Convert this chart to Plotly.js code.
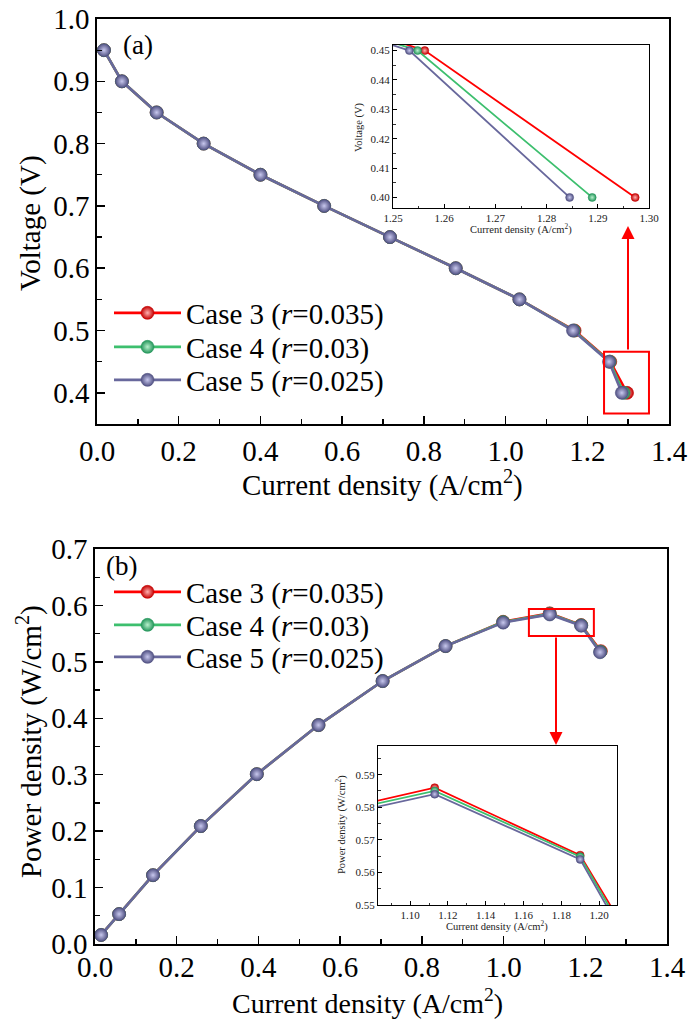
<!DOCTYPE html>
<html>
<head>
<meta charset="utf-8">
<script src="https://cdn.plot.ly/plotly-3.0.1.min.js"></script>
<style>
  html, body { margin: 0; padding: 0; background: #fff; }
  #chart { width: 689px; height: 1019px; }
</style>
</head>
<body>
<div id="chart"></div>
<script>
// ---- Polarization curves (panel a) ----
const voltage = [0.95, 0.90, 0.85, 0.80, 0.75, 0.70, 0.65, 0.60, 0.55, 0.50, 0.45, 0.40];
const currentCase3 = [0.017, 0.061, 0.146, 0.261, 0.400, 0.556, 0.717, 0.878, 1.034, 1.169, 1.2562, 1.2973];
const currentCase4 = [0.017, 0.061, 0.146, 0.261, 0.400, 0.556, 0.717, 0.878, 1.034, 1.167, 1.2548, 1.2889];
const currentCase5 = [0.017, 0.061, 0.146, 0.261, 0.400, 0.556, 0.717, 0.878, 1.034, 1.165, 1.2532, 1.2845];

// ---- Power density curves (panel b) ----
const pdCurrentCase3 = [0.015, 0.059, 0.142, 0.259, 0.396, 0.547, 0.704, 0.858, 0.999, 1.113, 1.190, 1.238];
const pdCurrentCase4 = [0.015, 0.059, 0.142, 0.259, 0.396, 0.547, 0.704, 0.858, 0.999, 1.113, 1.190, 1.237];
const pdCurrentCase5 = [0.015, 0.059, 0.142, 0.259, 0.396, 0.547, 0.704, 0.858, 0.999, 1.113, 1.190, 1.236];
const powerCase3 = [0.016, 0.053, 0.122, 0.209, 0.301, 0.388, 0.466, 0.528, 0.5710, 0.5860, 0.5653, 0.519];
const powerCase4 = [0.016, 0.053, 0.122, 0.209, 0.301, 0.388, 0.466, 0.528, 0.5705, 0.5850, 0.5648, 0.518];
const powerCase5 = [0.016, 0.053, 0.122, 0.209, 0.301, 0.388, 0.466, 0.528, 0.5695, 0.5840, 0.5640, 0.517];

const seriesNames = ['Case 3 (<i>r</i>=0.035)', 'Case 4 (<i>r</i>=0.03)', 'Case 5 (<i>r</i>=0.025)'];
const lineColors = ['#ff0000', '#3dbf6e', '#68689c'];
const edgeColors = ['#c40000', '#23955a', '#505082'];
const glowColors = ['#ffb0b0', '#b8f0cc', '#c8c8ee'];

const W = 689, H = 1019;
const px = x => x / W;
const py = y => 1 - y / H;

const FONT = 'Liberation Serif';
const MAIN_SIZE = 29;

function series(x, y, i, xa, ya, opts) {
  return Object.assign({
    type: 'scatter', mode: 'lines+markers',
    x: x, y: y, name: seriesNames[i],
    xaxis: xa, yaxis: ya,
    line: { color: lineColors[i], width: 2.6 },
    marker: {
      size: 13, symbol: 'circle', color: edgeColors[i],
      gradient: { type: 'radial', color: glowColors[i] },
      line: { color: edgeColors[i], width: 0.6 }
    },
    cliponaxis: false
  }, opts || {});
}

const curA = [currentCase3, currentCase4, currentCase5];
const curB = [pdCurrentCase3, pdCurrentCase4, pdCurrentCase5];
const powB = [powerCase3, powerCase4, powerCase5];

// one legend box per entry so each row can sit at its own height
const legendIdsA = ['legend', 'legend2', 'legend3'];
const legendIdsB = ['legend4', 'legend5', 'legend6'];

const insetStyle = i => ({
  showlegend: false, cliponaxis: true,
  line: { color: lineColors[i], width: 1.8 },
  marker: { size: 8, color: edgeColors[i], gradient: { type: 'radial', color: glowColors[i] },
            line: { color: edgeColors[i], width: 0.5 } }
});

const traces = [];
for (let i = 0; i < 3; i++) traces.push(series(curA[i], voltage, i, 'x', 'y', { legend: legendIdsA[i] }));
for (let i = 0; i < 3; i++) traces.push(series(curB[i], powB[i], i, 'x2', 'y2', { legend: legendIdsB[i] }));
for (let i = 0; i < 3; i++) traces.push(series(curA[i], voltage, i, 'x3', 'y3', insetStyle(i)));
for (let i = 0; i < 3; i++) traces.push(series(curB[i], powB[i], i, 'x4', 'y4', insetStyle(i)));

function mainAxis(domain, range, dtick, minorDtick, extra) {
  return Object.assign({
    domain: domain, range: range, dtick: dtick, tick0: 0,
    tickformat: '.1f',
    showgrid: false, zeroline: false,
    showline: true, linecolor: '#000', linewidth: 1.8, mirror: true,
    ticks: 'inside', ticklen: 8, tickwidth: 1.5, tickcolor: '#000',
    minor: { dtick: minorDtick, ticks: 'inside', ticklen: 5, tickwidth: 1.3, tickcolor: '#000', showgrid: false },
    tickfont: { family: FONT, size: MAIN_SIZE, color: '#000' },
    fixedrange: true
  }, extra || {});
}

function insetAxis(domain, range, dtick, minorDtick, extra) {
  return Object.assign({
    domain: domain, range: range, dtick: dtick, tick0: 0,
    tickformat: '.2f',
    showgrid: false, zeroline: false,
    showline: true, linecolor: '#000', linewidth: 1, mirror: true,
    ticks: 'inside', ticklen: 4, tickwidth: 1, tickcolor: '#000',
    minor: { dtick: minorDtick, ticks: 'inside', ticklen: 2.5, tickwidth: 0.8, tickcolor: '#000', showgrid: false },
    tickfont: { family: FONT, size: 11, color: '#222' },
    fixedrange: true
  }, extra || {});
}

function legendAt(rowY) {
  return {
    x: px(109), y: py(rowY), xanchor: 'left', yanchor: 'middle',
    font: { family: FONT, size: MAIN_SIZE, color: '#000' },
    bgcolor: 'rgba(0,0,0,0)', borderwidth: 0, itemwidth: 67
  };
}

const red = '#ff0000';

const layout = {
  width: W, height: H,
  margin: { l: 0, r: 0, t: 0, b: 0 },
  paper_bgcolor: '#fff', plot_bgcolor: 'rgba(0,0,0,0)',
  font: { family: FONT, color: '#000' },
  showlegend: true,
  legend: legendAt(313),
  legend2: legendAt(347),
  legend3: legendAt(380),
  legend4: legendAt(592),
  legend5: legendAt(625),
  legend6: legendAt(657),

  xaxis: mainAxis([px(97), px(669)], [0, 1.4], 0.2, 0.1, { anchor: 'y' }),
  yaxis: mainAxis([py(424), py(19)], [0.35, 1.0], 0.1, 0.05, { anchor: 'x' }),
  xaxis2: mainAxis([px(95), px(667)], [0, 1.4], 0.2, 0.1, { anchor: 'y2', ticklabelstandoff: -4 }),
  yaxis2: mainAxis([py(944), py(549)], [0, 0.7], 0.1, 0.05, { anchor: 'x2' }),

  xaxis3: insetAxis([px(393), px(649)], [1.25, 1.30], 0.01, 0.005, { anchor: 'y3' }),
  yaxis3: insetAxis([py(208), py(45)], [0.3964, 0.4519], 0.01, 0.005, { anchor: 'x3' }),
  xaxis4: insetAxis([px(378), px(617)], [1.083, 1.2095], 0.02, 0.01, { anchor: 'y4' }),
  yaxis4: insetAxis([py(905), py(746)], [0.55, 0.5988], 0.01, 0.005, { anchor: 'x4' }),

  shapes: [
    { type: 'rect', xref: 'x', yref: 'y', x0: 1.241, x1: 1.351, y0: 0.367, y1: 0.466,
      line: { color: red, width: 2 } },
    { type: 'rect', xref: 'x2', yref: 'y2', x0: 1.062, x1: 1.221, y0: 0.5458, y1: 0.5937,
      line: { color: red, width: 2 } }
  ],

  annotations: [
    // panel labels
    { text: '(a)', xref: 'paper', yref: 'paper', x: px(138), y: py(45), showarrow: false,
      font: { family: FONT, size: 27 }, xanchor: 'center', yanchor: 'middle' },
    { text: '(b)', xref: 'paper', yref: 'paper', x: px(121), y: py(566), showarrow: false,
      font: { family: FONT, size: 27 }, xanchor: 'center', yanchor: 'middle' },
    // main axis titles
    { text: 'Current density (A/cm<sup>2</sup>)', xref: 'paper', yref: 'paper', x: px(382), y: py(484),
      showarrow: false, font: { family: FONT, size: MAIN_SIZE }, xanchor: 'center', yanchor: 'middle' },
    { text: 'Voltage (V)', xref: 'paper', yref: 'paper', x: px(30), y: py(223), textangle: -90,
      showarrow: false, font: { family: FONT, size: MAIN_SIZE }, xanchor: 'center', yanchor: 'middle' },
    { text: 'Current density (A/cm<sup>2</sup>)', xref: 'paper', yref: 'paper', x: px(367), y: py(1001),
      showarrow: false, font: { family: FONT, size: 28 }, xanchor: 'center', yanchor: 'middle' },
    { text: 'Power density (W/cm<sup>2</sup>)', xref: 'paper', yref: 'paper', x: px(29), y: py(742), textangle: -90,
      showarrow: false, font: { family: FONT, size: MAIN_SIZE }, xanchor: 'center', yanchor: 'middle' },
    // zoomed view titles
    { text: 'Current density (A/cm<sup>2</sup>)', xref: 'paper', yref: 'paper', x: px(521), y: py(229),
      showarrow: false, font: { family: FONT, size: 10.5, color: '#222' }, xanchor: 'center', yanchor: 'middle' },
    { text: 'Voltage (V)', xref: 'paper', yref: 'paper', x: px(359), y: py(127), textangle: -90,
      showarrow: false, font: { family: FONT, size: 10.5, color: '#222' }, xanchor: 'center', yanchor: 'middle' },
    { text: 'Current density (A/cm<sup>2</sup>)', xref: 'paper', yref: 'paper', x: px(497), y: py(926),
      showarrow: false, font: { family: FONT, size: 10.5, color: '#222' }, xanchor: 'center', yanchor: 'middle' },
    { text: 'Power density (W/cm<sup>2</sup>)', xref: 'paper', yref: 'paper', x: px(341), y: py(825), textangle: -90,
      showarrow: false, font: { family: FONT, size: 10.5, color: '#222' }, xanchor: 'center', yanchor: 'middle' },
    // pointer arrows from the boxed regions to the zoomed views
    { text: '', xref: 'paper', yref: 'paper', x: px(628), y: py(226), ax: 0, ay: 125,
      axref: 'pixel', ayref: 'pixel', showarrow: true, arrowhead: 2, arrowsize: 1.3, arrowwidth: 2,
      arrowcolor: red, standoff: 0, startstandoff: 0 },
    { text: '', xref: 'paper', yref: 'paper', x: px(556), y: py(745), ax: 0, ay: -109,
      axref: 'pixel', ayref: 'pixel', showarrow: true, arrowhead: 2, arrowsize: 1.3, arrowwidth: 2,
      arrowcolor: red, standoff: 0, startstandoff: 0 }
  ]
};

Plotly.newPlot('chart', traces, layout, { staticPlot: true, displayModeBar: false });
</script>
</body>
</html>
